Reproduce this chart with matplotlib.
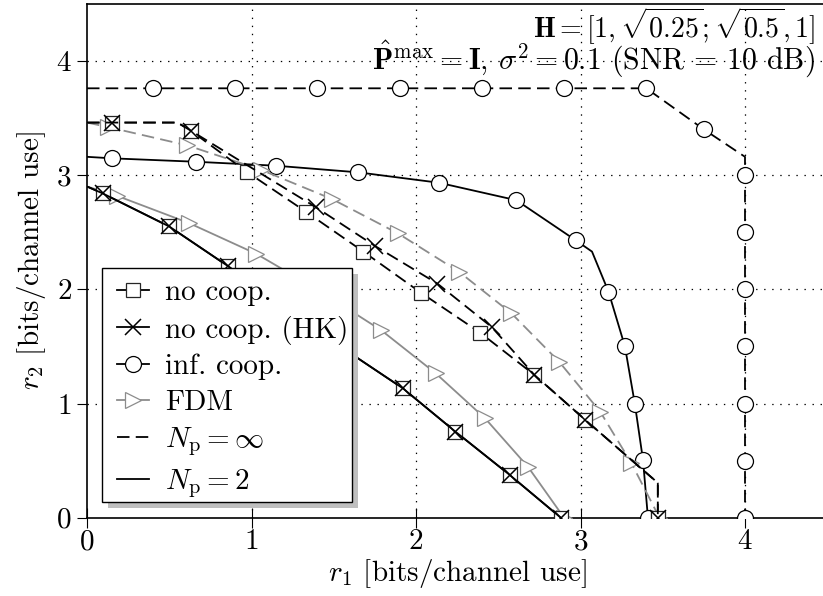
import matplotlib
matplotlib.use("Agg")
import matplotlib.pyplot as plt
from matplotlib.lines import Line2D
from matplotlib.patches import Rectangle

plt.rcParams['font.family'] = 'serif'
plt.rcParams['font.serif'] = ['cmr10', 'DejaVu Serif']
plt.rcParams['mathtext.fontset'] = 'cm'
plt.rcParams['axes.unicode_minus'] = False
plt.rcParams['axes.formatter.use_mathtext'] = True
plt.rcParams['lines.scale_dashes'] = False

# ---------------- data ----------------
# no cooperation, N_p = inf
nocoop_inf_x = [0, 0.15, 0.55, 0.63, 0.97, 1.33, 1.68, 2.03, 2.39, 2.72, 3.03, 3.45, 3.47, 3.47]
nocoop_inf_y = [3.46, 3.46, 3.46, 3.39, 3.03, 2.68, 2.33, 1.97, 1.62, 1.25, 0.855, 0.33, 0.30, 0.0]
nocoop_inf_marks = [1, 3, 4, 5, 6, 7, 8, 9, 10, 13]

# no cooperation (HK), N_p = inf
hk_inf_x = [0, 0.15, 0.55, 0.63, 1.39, 1.75, 2.13, 2.46, 2.72, 3.03, 3.45, 3.47, 3.47]
hk_inf_y = [3.46, 3.46, 3.46, 3.39, 2.72, 2.38, 2.05, 1.67, 1.25, 0.855, 0.33, 0.30, 0.0]
hk_inf_marks = [1, 3, 4, 5, 6, 7, 8, 9, 12]

# infinite cooperation, N_p = inf
infc_inf_x = [0, 0.4, 0.9, 1.4, 1.9, 2.4, 2.9, 3.4, 3.75, 4.0, 4.0, 4.0, 4.0, 4.0, 4.0, 4.0, 4.0]
infc_inf_y = [3.76, 3.76, 3.76, 3.76, 3.76, 3.76, 3.76, 3.76, 3.40, 3.16, 3.0, 2.5, 2.0, 1.5, 1.0, 0.5, 0.0]
infc_inf_marks = [1, 2, 3, 4, 5, 6, 7, 8, 10, 11, 12, 13, 14, 15, 16]

# FDM, N_p = inf
fdm_inf_x = [0, 0.13, 0.61, 1.06, 1.49, 1.89, 2.26, 2.58, 2.87, 3.12, 3.31, 3.48]
fdm_inf_y = [3.46, 3.42, 3.26, 3.045, 2.79, 2.49, 2.155, 1.79, 1.366, 0.928, 0.476, 0.0]
fdm_inf_marks = [1, 2, 3, 4, 5, 6, 7, 8, 9, 10, 11]

# infinite cooperation, N_p = 2
infc_2_x = [0, 0.15, 0.66, 1.15, 1.65, 2.14, 2.61, 2.97, 3.07, 3.17, 3.27, 3.33, 3.38, 3.41]
infc_2_y = [3.16, 3.147, 3.117, 3.082, 3.024, 2.933, 2.78, 2.43, 2.33, 1.98, 1.50, 1.00, 0.505, 0.0]
infc_2_marks = [1, 2, 3, 4, 5, 6, 7, 9, 10, 11, 12, 13]

# no cooperation (and HK), N_p = 2
nocoop_2_x = [0, 0.095, 0.50, 0.86, 1.22, 1.57, 1.92, 2.24, 2.57, 2.88]
nocoop_2_y = [2.90, 2.84, 2.55, 2.20, 1.85, 1.47, 1.133, 0.753, 0.374, 0.0]
nocoop_2_marks = [1, 2, 3, 4, 5, 6, 7, 8, 9]

# FDM, N_p = 2
fdm_2_x = [0, 0.18, 0.62, 1.03, 1.41, 1.79, 2.12, 2.42, 2.68, 2.90]
fdm_2_y = [2.90, 2.82, 2.58, 2.31, 1.99, 1.64, 1.264, 0.87, 0.447, 0.0]
fdm_2_marks = [1, 2, 3, 4, 5, 6, 7, 8, 9]

x_ticks = [0, 1, 2, 3, 4]
y_ticks = [0, 1, 2, 3, 4]
legend_labels = ['no coop.', 'no coop. (HK)', 'inf. coop.', 'FDM',
                 r'$N_\mathrm{p} = \infty$', r'$N_\mathrm{p} = 2$']
annot_line1 = r'$\mathbf{H} = [1, \sqrt{0.25}; \sqrt{0.5}, 1]$'
annot_line2 = r'$\hat{\mathbf{P}}^{\mathrm{max}} = \mathbf{I}$, $\sigma^2 = 0.1$ (SNR = 10 dB)'

# ---------------- styling ----------------
GRAY = '0.55'
LW = 1.3
DASH = (0, (9.0, 4.5))
FS = 21

fig = plt.figure(figsize=(8.23, 5.96), dpi=100)
W, H = 823.0, 596.0
x0_px, y0_px = 87.0, 517.7
ppx, ppy = 164.5, 114.2
ax = fig.add_axes([x0_px / W, (H - y0_px) / H, 4.5 * ppx / W, 4.5 * ppy / H])
ax.set_xlim(0, 4.5)
ax.set_ylim(0, 4.5)

sq = dict(marker='s', ms=10, mfc='white', mec='0.15', mew=0.9)
xx = dict(marker='x', ms=11, mec='black', mew=1.1)
ci = dict(marker='o', ms=11.5, mfc='white', mec='black', mew=0.9)
tr = dict(marker='>', ms=11.5, mfc='white', mec=GRAY, mew=0.9)

# N_p = 2 curves (solid)
ax.plot(fdm_2_x, fdm_2_y, color=GRAY, lw=LW, markevery=fdm_2_marks, zorder=3, **tr)
ax.plot(nocoop_2_x, nocoop_2_y, color='black', lw=LW, markevery=nocoop_2_marks, zorder=3, **sq)
ax.plot(nocoop_2_x, nocoop_2_y, color='black', lw=LW, markevery=nocoop_2_marks, zorder=3, **xx)
ax.plot(infc_2_x, infc_2_y, color='black', lw=LW, markevery=infc_2_marks, zorder=3, **ci)

# N_p = inf curves (dashed)
ax.plot(fdm_inf_x, fdm_inf_y, color=GRAY, lw=LW, ls=DASH, markevery=fdm_inf_marks, zorder=3, **tr)
ax.plot(nocoop_inf_x, nocoop_inf_y, color='black', lw=LW, ls=DASH, markevery=nocoop_inf_marks, zorder=3, **sq)
ax.plot(hk_inf_x, hk_inf_y, color='black', lw=LW, ls=DASH, markevery=hk_inf_marks, zorder=3, **xx)
ax.plot(infc_inf_x, infc_inf_y, color='black', lw=LW, ls=DASH, markevery=infc_inf_marks, zorder=3, **ci)

# grid
for v in x_ticks[1:]:
    ax.axvline(v, color='black', lw=0.9, ls=(0, (1.0, 4.8)), zorder=2)
for v in y_ticks[1:]:
    ax.axhline(v, color='black', lw=0.9, ls=(0, (1.0, 4.8)), zorder=2)

ax.set_xticks(x_ticks)
ax.set_yticks(y_ticks)
ax.tick_params(axis='x', direction='inout', length=14, width=0.8, labelsize=FS, pad=1)
ax.tick_params(axis='y', direction='out', length=7, width=0.8, labelsize=FS, pad=4)
ax.spines['right'].set_visible(False)
for s in ['left', 'bottom', 'top']:
    ax.spines[s].set_linewidth(1.2)

ax.set_xlabel(r'$r_1$ [bits/channel use]', fontsize=FS, labelpad=1)
ax.set_ylabel(r'$r_2$ [bits/channel use]', fontsize=FS, labelpad=6)

# annotation
t1 = fig.text(815 / W, 1 - 38 / H, annot_line1, ha='right', va='baseline', fontsize=20, zorder=1)
t2 = fig.text(815 / W, 1 - 70 / H, annot_line2, ha='right', va='baseline', fontsize=21, zorder=1)

handles = [
    Line2D([], [], color='black', lw=LW, **sq),
    Line2D([], [], color='black', lw=LW, **xx),
    Line2D([], [], color='black', lw=LW, **ci),
    Line2D([], [], color=GRAY, lw=LW, **tr),
    Line2D([], [], color='black', lw=LW, ls=DASH),
    Line2D([], [], color='black', lw=LW),
]

# legend frame + shadow drawn by hand (pixel box of the reference)
def px2ax(px, py):
    return ((px - x0_px) / (4.5 * ppx), (y0_px - py) / (4.5 * ppy))

fl, fb = px2ax(102, 502)
fr, ft = px2ax(352, 268)
sl, sb = px2ax(108, 508)
sr, st = px2ax(358, 274)
ax.add_patch(Rectangle((sl, sb), sr - sl, st - sb, transform=ax.transAxes,
                       facecolor='0.75', edgecolor='none', zorder=9, clip_on=False))
ax.add_patch(Rectangle((fl, fb), fr - fl, ft - fb, transform=ax.transAxes,
                       facecolor='white', edgecolor='black', lw=1.0, zorder=9.5, clip_on=False))

ancx, ancy = px2ax(117, 274)
leg = ax.legend(handles, legend_labels, loc='upper left', bbox_to_anchor=(ancx, ancy),
                fontsize=FS, frameon=False, handlelength=1.1, handletextpad=0.55,
                labelspacing=0.32, borderpad=0.0, borderaxespad=0.0)
leg.set_zorder(10)

fig.canvas.draw()
r = fig.canvas.get_renderer()
h0 = leg.legend_handles[0].get_window_extent(r)
cy = 0.5 * (h0.y0 + h0.y1)
target = H - 290
dy_ax = (target - cy) / (4.5 * ppy)
leg.set_bbox_to_anchor((ancx, ancy + dy_ax), transform=ax.transAxes)

# fit annotation widths to the reference spans
for t, span in ((t1, 815 - 533), (t2, 815 - 372)):
    wpx = t.get_window_extent(r).width
    if wpx > 0:
        t.set_fontsize(t.get_fontsize() * span / wpx)

fig.savefig('out.png', dpi=100)
